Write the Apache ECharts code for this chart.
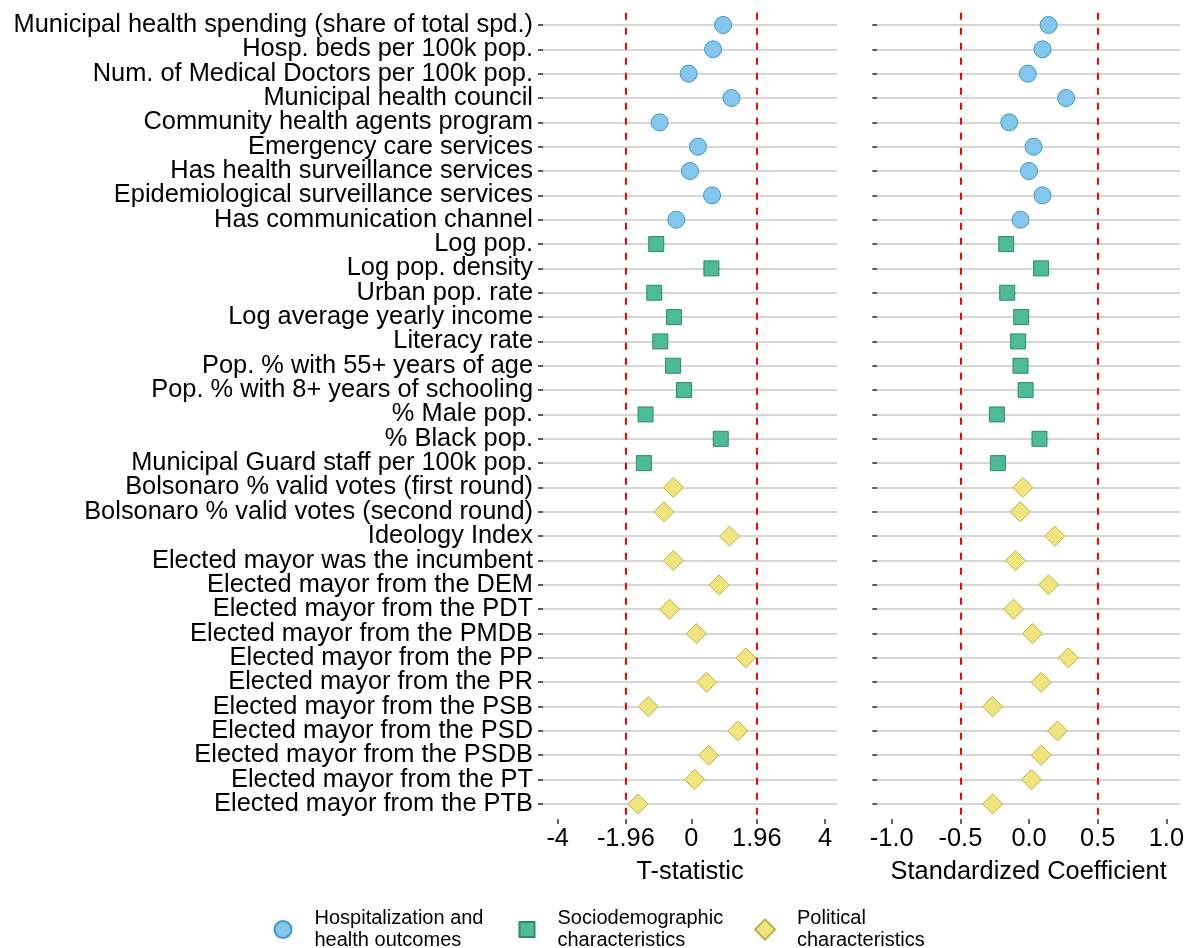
<!DOCTYPE html>
<html>
<head>
<meta charset="utf-8">
<title>Regression estimates</title>
<script src="https://cdn.jsdelivr.net/npm/echarts@6/dist/echarts.min.js"></script>
<style>
  html, body { margin: 0; padding: 0; background: #ffffff; }
  #chart { width: 1187px; height: 948px; }
</style>
</head>
<body>
<div id="chart"></div>
<script>
// Rows grouped by variable family (top to bottom)
const healthRows = [
  'Municipal health spending (share of total spd.)',
  'Hosp. beds per 100k pop.',
  'Num. of Medical Doctors per 100k pop.',
  'Municipal health council',
  'Community health agents program',
  'Emergency care services',
  'Has health surveillance services',
  'Epidemiological surveillance services',
  'Has communication channel'
];
const healthT    = [0.95, 0.65, -0.08, 1.20, -0.95, 0.20, -0.04, 0.62, -0.45];
const healthCoef = [0.142, 0.098, -0.009, 0.270, -0.144, 0.033, 0.000, 0.098, -0.062];

const socioRows = [
  'Log pop.',
  'Log pop. density',
  'Urban pop. rate',
  'Log average yearly income',
  'Literacy rate',
  'Pop. % with 55+ years of age',
  'Pop. % with 8+ years of schooling',
  '% Male pop.',
  '% Black pop.',
  'Municipal Guard staff per 100k pop.'
];
const socioT    = [-1.05, 0.60, -1.11, -0.52, -0.93, -0.55, -0.22, -1.37, 0.88, -1.42];
const socioCoef = [-0.166, 0.088, -0.159, -0.057, -0.079, -0.062, -0.025, -0.234, 0.076, -0.227];

const politicalRows = [
  'Bolsonaro % valid votes (first round)',
  'Bolsonaro % valid votes (second round)',
  'Ideology Index',
  'Elected mayor was the incumbent',
  'Elected mayor from the DEM',
  'Elected mayor from the PDT',
  'Elected mayor from the PMDB',
  'Elected mayor from the PP',
  'Elected mayor from the PR',
  'Elected mayor from the PSB',
  'Elected mayor from the PSD',
  'Elected mayor from the PSDB',
  'Elected mayor from the PT',
  'Elected mayor from the PTB'
];
const politicalT    = [-0.54, -0.82, 1.14, -0.54, 0.83, -0.65, 0.15, 1.63, 0.46, -1.29, 1.39, 0.52, 0.10, -1.60];
const politicalCoef = [-0.045, -0.064, 0.188, -0.098, 0.142, -0.113, 0.025, 0.287, 0.088, -0.265, 0.207, 0.088, 0.018, -0.265];

const groupNames  = ['Hospitalization and health outcomes', 'Sociodemographic characteristics', 'Political characteristics'];
const legendLines = [
  ['Hospitalization and', 'health outcomes'],
  ['Sociodemographic', 'characteristics'],
  ['Political', 'characteristics']
];

const tTicks    = [-4, -1.96, 0, 1.96, 4];
const coefTicks = [-1.0, -0.5, 0.0, 0.5, 1.0];
const tCritical    = [-1.96, 1.96];
const coefCritical = [-0.5, 0.5];

const categories = healthRows.concat(socioRows, politicalRows);

// ---- styling ----
const FONT = '"Liberation Sans", Arial, Helvetica, sans-serif';
const FS = 25.4;
const groupStyles = [
  { symbol: 'circle',  size: 17, fill: '#85c6ec', border: '#3c97cb' },
  { symbol: 'rect',    size: 15, fill: '#4dba98', border: '#2d8a6c' },
  { symbol: 'diamond', size: 20, fill: '#efe57c', border: '#bfb14a' }
];
const groupRows = [healthRows, socioRows, politicalRows];
const groupT    = [healthT, socioT, politicalT];
const groupCoef = [healthCoef, socioCoef, politicalCoef];

const gridTop = 12.8, gridHeight = 803.3;

function xAxisFor(gridIndex, min, max, ticks, name, fmt) {
  return {
    gridIndex, type: 'value', min, max, offset: 3,
    axisLine: { show: false, onZero: false },
    splitLine: { show: false },
    axisTick: { show: true, customValues: ticks, length: 5, lineStyle: { color: '#333333', width: 1.5 } },
    axisLabel: { customValues: ticks, formatter: fmt, fontSize: FS, fontFamily: FONT, color: '#000', margin: 7 },
    name, nameLocation: 'middle', nameGap: 40,
    nameTextStyle: { fontSize: FS, fontFamily: FONT, color: '#000' }
  };
}
function yAxisFor(gridIndex, showLabels) {
  return {
    gridIndex, type: 'category', data: categories, inverse: true, position: 'left',
    axisLine: { show: false, onZero: false },
    splitLine: { show: false },
    axisTick: { show: true, alignWithLabel: true, interval: 0, length: 5, lineStyle: { color: '#333333', width: 1.6 } },
    axisLabel: { show: showLabels, interval: 0, fontSize: FS, fontFamily: FONT, color: '#000', margin: 10 }
  };
}

function gridLineSeries(axisIndex) {
  return {
    type: 'scatter', xAxisIndex: axisIndex, yAxisIndex: axisIndex, data: [], z: 1, silent: true,
    markLine: {
      z: 1, silent: true, symbol: ['none', 'none'], animation: false,
      label: { show: false },
      emphasis: { disabled: true },
      lineStyle: { color: '#d6d6d6', width: 2, type: 'solid', opacity: 1 },
      data: categories.map((c, i) => ({ yAxis: i }))
    }
  };
}
function criticalSeries(axisIndex, values) {
  return {
    type: 'scatter', xAxisIndex: axisIndex, yAxisIndex: axisIndex, data: [], z: 2, silent: true,
    markLine: {
      z: 2, silent: true, symbol: ['none', 'none'], animation: false,
      label: { show: false },
      emphasis: { disabled: true },
      lineStyle: { color: '#ff0000', width: 2, type: [7, 8], opacity: 1 },
      data: values.map(v => ({ xAxis: v }))
    }
  };
}
function pointSeries(axisIndex, g, values) {
  const st = groupStyles[g];
  return {
    name: groupNames[g], type: 'scatter', xAxisIndex: axisIndex, yAxisIndex: axisIndex, z: 5,
    symbol: st.symbol, symbolSize: st.size,
    itemStyle: { color: st.fill, borderColor: st.border, borderWidth: 1, opacity: 1 },
    data: groupRows[g].map((r, i) => [values[g][i], r])
  };
}

// three legend blocks, one per group; text pushed right with rich padding
const legendLayout = [
  { left: 273.5, size: 17, pad: 18 },
  { left: 518.5, size: 15, pad: 18 },
  { left: 754,   size: 20, pad: 17 }
];
const legends = groupNames.map((n, g) => ({
  left: legendLayout[g].left, top: 907.5, orient: 'horizontal', padding: 0,
  itemWidth: legendLayout[g].size, itemHeight: legendLayout[g].size,
  selectedMode: false,
  data: [{ name: n, icon: groupStyles[g].symbol }],
  formatter: () => legendLines[g].map(s => '{t|' + s + '}').join('\n'),
  textStyle: {
    fontSize: 20, fontFamily: FONT, color: '#000', lineHeight: 22,
    rich: { t: { fontSize: 20, fontFamily: FONT, color: '#000', lineHeight: 22, padding: [0, 0, 0, legendLayout[g].pad] } }
  }
}));

const series = [
  gridLineSeries(0), gridLineSeries(1),
  criticalSeries(0, tCritical), criticalSeries(1, coefCritical)
];
for (let g = 0; g < 3; g++) {
  series.push(pointSeries(0, g, groupT));
  series.push(pointSeries(1, g, groupCoef));
}

const option = {
  animation: false,
  backgroundColor: '#ffffff',
  textStyle: { fontFamily: FONT },
  grid: [
    { left: 543,   top: gridTop, width: 294,   height: gridHeight },
    { left: 877.3, top: gridTop, width: 303.4, height: gridHeight }
  ],
  xAxis: [
    xAxisFor(0, -4.44, 4.36, tTicks, 'T-statistic', v => String(v)),
    xAxisFor(1, -1.105, 1.1, coefTicks, 'Standardized Coefficient', v => Number(v).toFixed(1))
  ],
  yAxis: [yAxisFor(0, true), yAxisFor(1, false)],
  legend: legends,
  series
};

const chart = echarts.init(document.getElementById('chart'), null, { renderer: 'canvas' });
chart.setOption(option);
</script>
</body>
</html>
